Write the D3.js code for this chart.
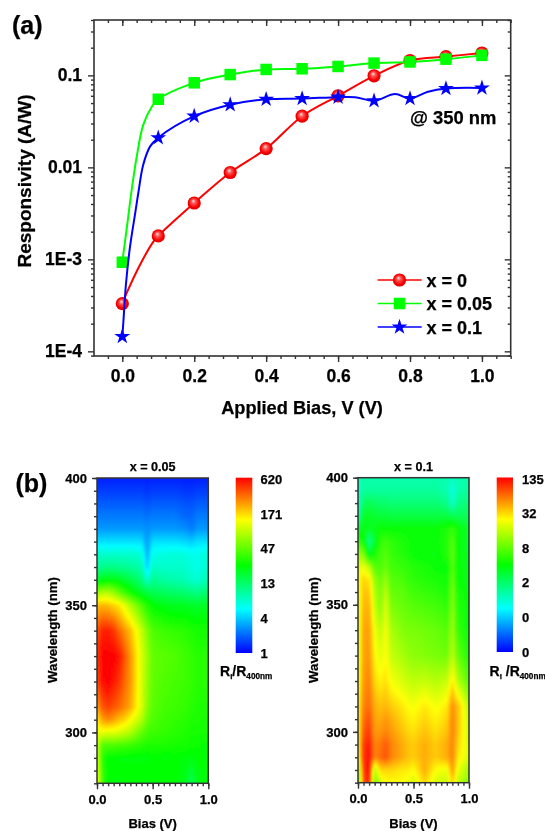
<!DOCTYPE html>
<html>
<head>
<meta charset="utf-8">
<script src="https://cdn.jsdelivr.net/npm/d3@7"></script>
<style>
  body { margin: 0; background: #fff; }
  svg { display: block; font-family: "Liberation Sans", Arial, sans-serif; font-weight: bold; filter: blur(0.4px); }
  text { fill: #000; stroke: #000; stroke-width: 0.25px; }
</style>
</head>
<body>
<svg id="chart" width="545" height="831"></svg>
<script>
// Panel (a): responsivity at 350 nm.
const biasPoints = [0, 0.1, 0.2, 0.3, 0.4, 0.5, 0.6, 0.7, 0.8, 0.9, 1.0];
const respX0 = [3.3e-4, 1.8e-3, 4.1e-3, 8.8e-3, 0.016, 0.036, 0.06, 0.099, 0.145, 0.16, 0.175];
const respX005 = [9.3e-4, 0.055, 0.083, 0.102, 0.116, 0.118, 0.125, 0.136, 0.14, 0.15, 0.165];
const respX01 = [1.45e-4, 0.021, 0.036, 0.048, 0.055, 0.056, 0.058, 0.053, 0.056, 0.072, 0.073];
// Where the plotted spline bends between the measured points.
const bendsX0 = [[0.012, 4.3e-4], [0.049, 8.7e-4], [0.086, 1.55e-3]];
const bendsX005 = [[0.016, 2.81e-3], [0.026, 5.66e-3], [0.04, 0.013], [0.058, 0.0288], [0.082, 0.0456]];
const bendsX01 = [[0.003, 2.1e-4], [0.01, 5.3e-4], [0.021, 1.33e-3], [0.036, 3.2e-3], [0.0445, 5.26e-3],
  [0.058, 0.0106], [0.077, 0.0168], [0.647, 0.058], [0.7586, 0.0626], [0.85, 0.0664]];
const legendLabels = ['x = 0', 'x = 0.05', 'x = 0.1'];
const respMajor = [1e-4, 1e-3, 0.01, 0.1];
const respMajorLabels = ['1E-4', '1E-3', '0.01', '0.1'];

// Panel (b): position on each log colour bar (0 bottom, 1 top) per bias / wavelength.
const mapBias = [0, 0.05, 0.1, 0.15, 0.2, 0.25, 0.3, 0.4, 0.45, 0.5, 0.6, 0.7, 0.8, 0.85, 0.9, 1];
const mapWavelength = [400, 395, 390, 385, 380, 375, 370, 365, 360, 355, 350, 340, 330, 320, 310, 305, 300, 295, 290, 285, 280];
const mapX005 = [
  [.03,.03,.03,.03,.03,.03,.03,.03,.03,.03,.03,.03,.03,.03,.03,.03],
  [.06,.06,.06,.06,.06,.06,.06,.06,.05,.06,.06,.06,.05,.05,.06,.06],
  [.09,.09,.09,.09,.09,.09,.09,.09,.08,.09,.09,.09,.08,.08,.09,.09],
  [.12,.12,.12,.12,.12,.12,.12,.12,.11,.12,.12,.12,.1,.1,.12,.12],
  [.15,.15,.15,.15,.15,.15,.15,.15,.14,.15,.15,.15,.14,.12,.15,.15],
  [.22,.22,.22,.22,.22,.22,.22,.22,.15,.22,.22,.22,.21,.2,.22,.22],
  [.3,.3,.3,.3,.3,.3,.3,.29,.17,.27,.28,.29,.28,.27,.27,.29],
  [.36,.36,.37,.37,.36,.36,.35,.33,.2,.31,.3,.3,.3,.28,.27,.3],
  [.46,.48,.49,.48,.47,.45,.43,.38,.3,.36,.34,.33,.32,.3,.29,.33],
  [.65,.68,.68,.65,.6,.56,.52,.46,.44,.42,.41,.4,.39,.38,.37,.4],
  [.82,.83,.82,.8,.78,.73,.68,.58,.53,.5,.48,.47,.47,.46,.46,.47],
  [.92,.97,.97,.95,.9,.86,.82,.7,.63,.58,.56,.55,.54,.53,.52,.52],
  [.95,1,1,1,.98,.92,.86,.72,.66,.6,.59,.58,.56,.55,.54,.54],
  [.93,.99,1,.98,.95,.9,.86,.72,.65,.6,.58,.57,.56,.55,.54,.54],
  [.85,.92,.94,.92,.9,.87,.84,.72,.64,.59,.57,.56,.55,.54,.53,.53],
  [.78,.85,.87,.85,.82,.8,.76,.68,.61,.58,.56,.55,.54,.53,.53,.52],
  [.74,.74,.73,.73,.72,.7,.68,.6,.57,.56,.55,.54,.53,.52,.52,.52],
  [.7,.58,.58,.58,.57,.57,.56,.54,.53,.53,.53,.52,.52,.51,.51,.5],
  [.72,.54,.5,.5,.49,.49,.49,.49,.49,.5,.49,.5,.49,.49,.5,.5],
  [.74,.55,.5,.5,.5,.5,.5,.5,.5,.5,.5,.5,.48,.45,.49,.5],
  [.76,.56,.5,.49,.49,.5,.5,.5,.49,.5,.5,.5,.47,.42,.48,.5]
];
const mapX01 = [
  [.33,.33,.33,.33,.33,.33,.33,.33,.33,.33,.33,.33,.33,.31,.33,.33],
  [.3,.35,.35,.35,.35,.35,.35,.35,.35,.35,.35,.35,.33,.28,.33,.35],
  [.3,.41,.42,.41,.4,.4,.39,.39,.39,.39,.39,.39,.37,.3,.37,.39],
  [.33,.47,.47,.46,.45,.45,.44,.44,.44,.44,.44,.44,.44,.42,.42,.42],
  [.45,.49,.47,.48,.5,.5,.5,.5,.5,.5,.5,.5,.52,.55,.5,.46],
  [.55,.5,.36,.46,.54,.56,.54,.52,.51,.5,.5,.5,.53,.58,.5,.46],
  [.66,.62,.47,.52,.56,.58,.55,.53,.52,.5,.49,.49,.53,.59,.5,.47],
  [.72,.74,.68,.58,.57,.6,.56,.55,.54,.53,.52,.5,.5,.58,.5,.48],
  [.75,.8,.78,.65,.6,.65,.58,.57,.55,.54,.53,.52,.51,.6,.5,.48],
  [.73,.82,.81,.68,.62,.69,.6,.59,.57,.56,.55,.54,.52,.62,.52,.49],
  [.72,.83,.83,.7,.63,.72,.62,.6,.59,.58,.57,.56,.54,.63,.53,.5],
  [.72,.85,.85,.75,.69,.75,.67,.63,.62,.62,.61,.6,.58,.66,.55,.5],
  [.72,.85,.86,.77,.73,.76,.7,.67,.65,.64,.63,.62,.61,.69,.6,.52],
  [.74,.86,.88,.8,.77,.79,.75,.72,.7,.69,.7,.68,.7,.78,.68,.58],
  [.76,.88,.9,.84,.82,.83,.81,.78,.76,.75,.78,.75,.78,.87,.82,.68],
  [.76,.9,.93,.85,.84,.86,.84,.8,.78,.77,.8,.77,.8,.88,.82,.7],
  [.76,.92,.95,.86,.86,.88,.86,.82,.8,.79,.82,.79,.82,.88,.82,.7],
  [.76,.95,.98,.88,.89,.92,.88,.84,.82,.81,.84,.81,.84,.88,.8,.72],
  [.74,.96,.99,.88,.9,.93,.88,.84,.82,.81,.84,.81,.84,.88,.78,.72],
  [.62,.95,1,.68,.8,.8,.8,.78,.78,.76,.84,.76,.74,.86,.74,.66],
  [.55,.93,.98,.6,.72,.76,.76,.76,.74,.72,.8,.72,.7,.8,.7,.62]
];
const barLabelsX005 = ['1', '4', '13', '47', '171', '620'];
const barLabelsX01 = ['0', '0', '2', '8', '32', '135'];

// Rainbow as on the colour bars.
const colourStops = ['#0000ff', '#00ffff', '#00ff00', '#ffff00', '#ff0000'];
const colourAt = d3.scaleLinear().domain([0, 0.25, 0.5, 0.76, 1]).range(colourStops).clamp(true);

const svg = d3.select('#chart');
const defs = svg.append('defs');

const sphere = defs.append('radialGradient').attr('id', 'sphere')
  .attr('cx', 0.5).attr('cy', 0.5).attr('r', 0.55).attr('fx', 0.42).attr('fy', 0.34);
sphere.append('stop').attr('offset', 0).attr('stop-color', '#ffe6e6');
sphere.append('stop').attr('offset', 0.3).attr('stop-color', '#ff5555');
sphere.append('stop').attr('offset', 0.7).attr('stop-color', '#f80000');
sphere.append('stop').attr('offset', 1).attr('stop-color', '#d40000');

defs.append('filter').attr('id', 'soft')
  .attr('x', '-5%').attr('y', '-5%').attr('width', '110%').attr('height', '110%')
  .append('feGaussianBlur').attr('stdDeviation', 1.3);

const bar = defs.append('linearGradient').attr('id', 'barFill')
  .attr('x1', 0).attr('y1', 1).attr('x2', 0).attr('y2', 0);
colourAt.domain().forEach((o, i) => bar.append('stop').attr('offset', o).attr('stop-color', colourStops[i]));

// ---- panel (a) ----
const frameA = { left: 94, right: 510.7, top: 20, bottom: 356 };
const xA = d3.scaleLinear().domain([-0.0787, 1.08]).range([frameA.left, frameA.right]);
const yA = d3.scaleLog().domain([8.9e-5, 0.4]).range([frameA.bottom, frameA.top]);

const xMinor = d3.range(-6, 28).map(i => i * 0.04).filter(v => v >= -0.0787 && v <= 1.08);
const yMinor = [];
for (const d of respMajor.concat([1])) for (let m = 2; m <= 9; m++) {
  const v = d * m / 10;
  if (v >= 8.9e-5 && v <= 0.4) yMinor.push(v);
}

function addAxis(parent, axis, x, y, labelSize) {
  const g = parent.append('g').attr('transform', `translate(${x},${y})`).call(axis);
  g.attr('font-family', null).attr('font-size', labelSize || null);
  g.select('.domain').remove();
  g.selectAll('line').attr('stroke', '#333').attr('stroke-width', 1.4);
  return g;
}

const ga = svg.append('g');

// Bottom and left tick out, the top and right mirrors tick in.
addAxis(ga, d3.axisBottom(xA).tickValues(xMinor).tickSize(3).tickFormat(''), 0, frameA.bottom);
addAxis(ga, d3.axisBottom(xA).tickValues([0, 0.2, 0.4, 0.6, 0.8, 1]).tickSize(6).tickPadding(8)
  .tickFormat(d3.format('.1f')), 0, frameA.bottom, 17.5);
addAxis(ga, d3.axisBottom(xA).tickValues(xMinor).tickSize(3).tickFormat(''), 0, frameA.top);
addAxis(ga, d3.axisBottom(xA).tickValues([0, 0.2, 0.4, 0.6, 0.8, 1]).tickSize(6).tickFormat(''), 0, frameA.top);
addAxis(ga, d3.axisLeft(yA).tickValues(yMinor).tickSize(3).tickFormat(''), frameA.left, 0);
addAxis(ga, d3.axisLeft(yA).tickValues(respMajor).tickSize(6).tickPadding(6)
  .tickFormat((d, i) => respMajorLabels[i]), frameA.left, 0, 17.5);
addAxis(ga, d3.axisLeft(yA).tickValues(yMinor).tickSize(3).tickFormat(''), frameA.right, 0);
addAxis(ga, d3.axisLeft(yA).tickValues(respMajor).tickSize(6).tickFormat(''), frameA.right, 0);

ga.append('rect')
  .attr('x', frameA.left).attr('y', frameA.top)
  .attr('width', frameA.right - frameA.left).attr('height', frameA.bottom - frameA.top)
  .attr('fill', 'none').attr('stroke', '#333').attr('stroke-width', 1.6);

const seriesLine = d3.line().x(d => xA(d[0])).y(d => yA(d[1])).curve(d3.curveCatmullRom.alpha(0.5));

const seriesA = [
  { values: respX0, bends: bendsX0, colour: '#ff0000', mark: 'sphere' },
  { values: respX005, bends: bendsX005, colour: '#00ff00', mark: 'square' },
  { values: respX01, bends: bendsX01, colour: '#0000ff', mark: 'star' }
];

function drawMark(g, mark, colour) {
  if (mark === 'sphere') {
    g.append('circle').attr('r', 6.6).attr('fill', 'url(#sphere)');
  } else if (mark === 'square') {
    g.append('path').attr('d', d3.symbol(d3.symbolSquare, 132)()).attr('fill', colour);
  } else {
    g.append('path').attr('d', d3.symbol(d3.symbolStar, 78)()).attr('fill', colour);
  }
}

seriesA.forEach(s => {
  const knots = biasPoints.map((b, i) => [b, s.values[i]]).concat(s.bends)
    .sort((a, b) => a[0] - b[0]);
  ga.append('path').attr('d', seriesLine(knots))
    .attr('fill', 'none').attr('stroke', s.colour).attr('stroke-width', 2);
  ga.append('g').selectAll('g').data(s.values).join('g')
    .attr('transform', (d, i) => `translate(${xA(biasPoints[i])},${yA(d)})`)
    .each(function () { drawMark(d3.select(this), s.mark, s.colour); });
});

// Legend
const legendY = d3.scalePoint().domain(legendLabels).range([280, 327]);
const legend = ga.append('g').selectAll('g').data(seriesA).join('g')
  .attr('transform', (d, i) => `translate(0,${legendY(legendLabels[i])})`);
legend.append('line').attr('x1', 377.7).attr('x2', 421.7)
  .attr('stroke', d => d.colour).attr('stroke-width', 1.6);
legend.append('g').attr('transform', 'translate(399.5,0)')
  .each(function (d) { drawMark(d3.select(this), d.mark, d.colour); });
legend.append('text').attr('x', 426.5).attr('y', 6.5).attr('font-size', 18)
  .text((d, i) => legendLabels[i]);

ga.append('text').attr('x', 410).attr('y', 124).attr('font-size', 18.4).text('@ 350 nm');
ga.append('text').attr('x', 302).attr('y', 414).attr('text-anchor', 'middle').attr('font-size', 18.2)
  .text('Applied Bias, V (V)');
ga.append('text').attr('transform', 'translate(30.5,181) rotate(-90)').attr('text-anchor', 'middle')
  .attr('font-size', 19).text('Responsivity (A/W)');
svg.append('text').attr('x', 12).attr('y', 34).attr('font-size', 25).text('(a)');
svg.append('text').attr('x', 15.5).attr('y', 492).attr('font-size', 25).text('(b)');

// ---- panel (b) ----
const colIndex = d3.scaleLinear().domain(mapBias).range(d3.range(mapBias.length)).clamp(true);
const rowIndex = d3.scaleLinear().domain(mapWavelength).range(d3.range(mapWavelength.length)).clamp(true);

function levelAt(grid, b, w) {
  const cf = colIndex(b), rf = rowIndex(w);
  const c0 = Math.min(Math.floor(cf), mapBias.length - 2), r0 = Math.min(Math.floor(rf), mapWavelength.length - 2);
  const ct = cf - c0, rt = rf - r0;
  return d3.interpolateNumber(
    d3.interpolateNumber(grid[r0][c0], grid[r0][c0 + 1])(ct),
    d3.interpolateNumber(grid[r0 + 1][c0], grid[r0 + 1][c0 + 1])(ct)
  )(rt);
}

function drawMap(opts) {
  const { left, right, top, bottom, grid, title, yLabelX, bar: barBox, barLabels, id } = opts;
  const x = d3.scaleLinear().domain([0, 1]).range([left, right]);
  const y = d3.scaleLinear().domain([400, 280]).range([top, bottom]);
  const g = svg.append('g');

  defs.append('clipPath').attr('id', id).append('rect')
    .attr('x', left).attr('y', top).attr('width', right - left).attr('height', bottom - top);

  const cells = [];
  for (const py of d3.range(top - 6, bottom + 6, 2)) {
    for (const px of d3.range(left - 6, right + 6, 2)) {
      cells.push({ px, py, level: levelAt(grid, x.invert(px + 1), y.invert(py + 1)) });
    }
  }
  g.append('g').attr('clip-path', `url(#${id})`)
    .append('g').attr('filter', 'url(#soft)')
    .selectAll('rect').data(cells).join('rect')
    .attr('x', d => d.px).attr('y', d => d.py).attr('width', 2.2).attr('height', 2.2)
    .attr('fill', d => colourAt(d.level));

  addAxis(g, d3.axisBottom(x).tickValues(d3.range(0, 21).map(i => i * 0.05)).tickSize(3).tickFormat(''), 0, bottom);
  addAxis(g, d3.axisBottom(x).tickValues([0, 0.5, 1]).tickSize(6).tickPadding(5).tickFormat(d3.format('.1f')), 0, bottom, 13);
  addAxis(g, d3.axisLeft(y).tickValues(d3.range(280, 401, 5)).tickSize(3).tickFormat(''), left, 0);
  addAxis(g, d3.axisLeft(y).tickValues([300, 350, 400]).tickSize(5).tickPadding(5), left, 0, 13);

  g.append('rect').attr('x', left).attr('y', top)
    .attr('width', right - left).attr('height', bottom - top)
    .attr('fill', 'none').attr('stroke', '#333').attr('stroke-width', 1.5);

  const midX = (left + right) / 2;
  g.append('text').attr('x', midX).attr('y', 471).attr('text-anchor', 'middle').attr('font-size', 12.6).text(title);
  g.append('text').attr('x', midX).attr('y', 828).attr('text-anchor', 'middle').attr('font-size', 13).text('Bias (V)');
  g.append('text').attr('transform', `translate(${yLabelX},630) rotate(-90)`)
    .attr('text-anchor', 'middle').attr('font-size', 13.2).text('Wavelength (nm)');

  // Colour bar
  g.append('rect').attr('x', barBox.left).attr('y', barBox.top)
    .attr('width', barBox.right - barBox.left).attr('height', barBox.bottom - barBox.top)
    .attr('fill', 'url(#barFill)');
  const barScale = d3.scalePoint().domain(d3.range(barLabels.length)).range([barBox.bottom, barBox.top + 1.5]);
  addAxis(g, d3.axisRight(barScale).tickSize(0).tickPadding(0).tickFormat(i => barLabels[i]), barBox.labelX, 0, 13);

  const unit = g.append('text').attr('x', barBox.unitX).attr('y', 676).attr('font-size', 14);
  unit.append('tspan').text('R');
  unit.append('tspan').attr('font-size', 8).attr('dy', 3).text('i');
  unit.append('tspan').attr('dy', -3).text(barBox.gap + '/R');
  unit.append('tspan').attr('font-size', 8.2).attr('dy', 3).text('400nm');
}

drawMap({
  id: 'clipX005', left: 97, right: 208.3, top: 478, bottom: 783.3, grid: mapX005,
  title: 'x = 0.05', yLabelX: 57, barLabels: barLabelsX005,
  bar: { left: 235.7, right: 252.3, top: 477.7, bottom: 653, labelX: 260.5, unitX: 220, gap: '' }
});
drawMap({
  id: 'clipX01', left: 358, right: 469, top: 477.7, bottom: 782.7, grid: mapX01,
  title: 'x = 0.1', yLabelX: 318, barLabels: barLabelsX01,
  bar: { left: 496.7, right: 513, top: 477.5, bottom: 652, labelX: 522, unitX: 489.5, gap: ' ' }
});
</script>
</body>
</html>
